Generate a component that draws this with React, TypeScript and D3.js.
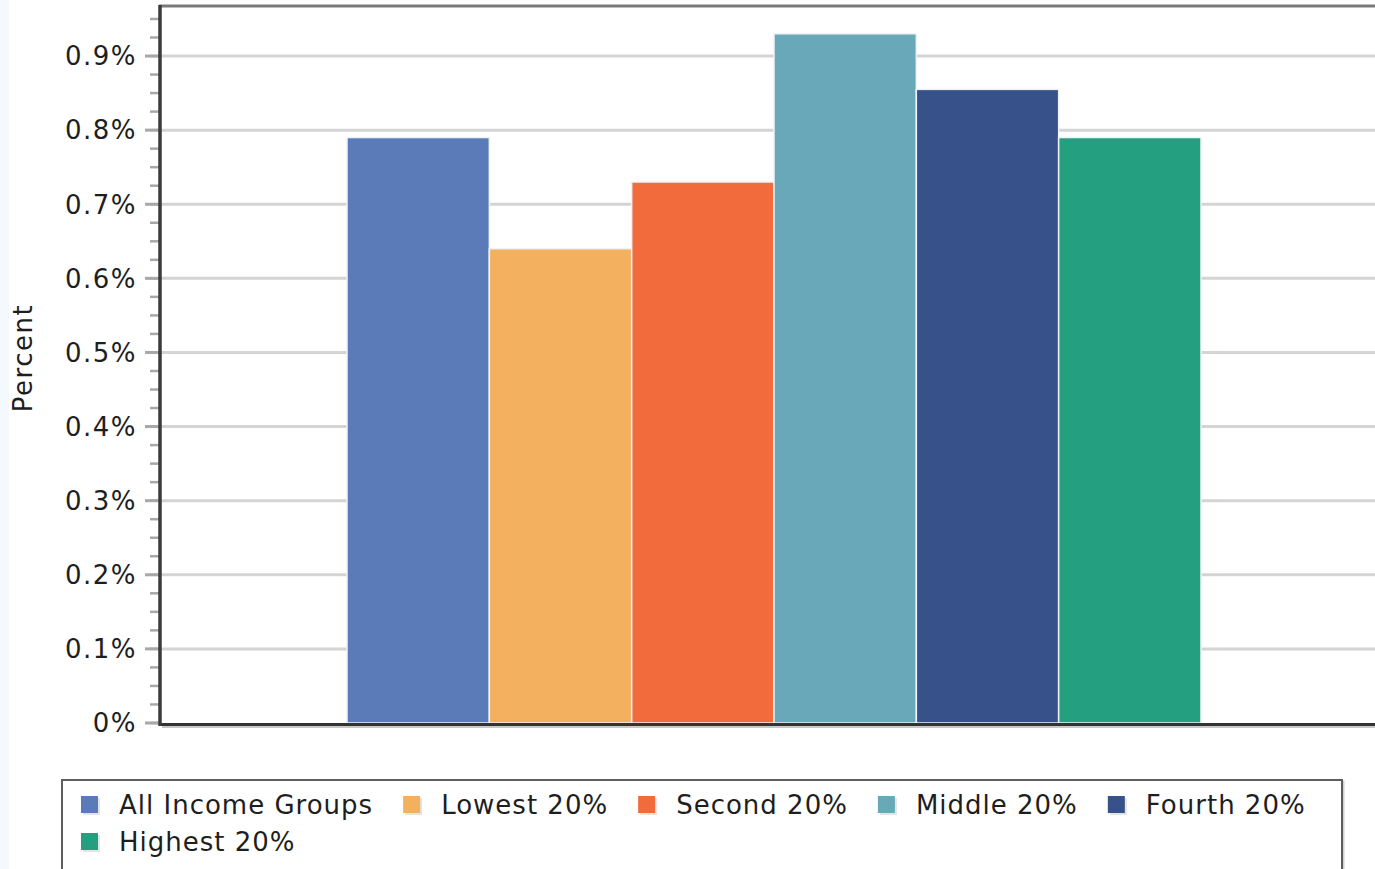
import React, { useEffect, useRef } from "react";
import * as d3 from "d3";

// Share of income by group
const seriesNames = [
  "All Income Groups",
  "Lowest 20%",
  "Second 20%",
  "Middle 20%",
  "Fourth 20%",
  "Highest 20%",
];
const seriesValues = [0.79, 0.64, 0.73, 0.93, 0.855, 0.79];
const seriesColors = ["#5a7bb8", "#f3b05f", "#f26b3d", "#68a8b8", "#37528a", "#249f7f"];
const majorTicks = [0, 0.1, 0.2, 0.3, 0.4, 0.5, 0.6, 0.7, 0.8, 0.9];
const categories = ["Percent"];

const W = 1375;
const H = 869;
const FONT = "'DejaVu Sans', Verdana, sans-serif";

export default function App() {
  const ref = useRef<SVGSVGElement | null>(null);

  useEffect(() => {
    const svg = d3.select(ref.current);
    svg.selectAll("*").remove();

    const plot = { left: 160, top: 6, right: 1388, bottom: 723 };

    const y = d3.scaleLinear().domain([0, 0.9675]).range([plot.bottom, plot.top]);
    const x0 = d3
      .scaleBand<string>()
      .domain(categories)
      .range([plot.left, plot.right])
      .paddingInner(0)
      .paddingOuter(0.219);
    const x1 = d3.scaleBand<string>().domain(seriesNames).range([0, x0.bandwidth()]).padding(0);

    svg.append("rect").attr("width", W).attr("height", H).attr("fill", "#ffffff");
    svg.append("rect").attr("width", 9).attr("height", H).attr("fill", "#f3f9fc");

    // grid lines
    svg
      .append("g")
      .selectAll("line")
      .data(majorTicks.filter((t) => t > 0))
      .join("line")
      .attr("x1", plot.left)
      .attr("x2", W)
      .attr("y1", (d) => y(d))
      .attr("y2", (d) => y(d))
      .attr("stroke", "#d4d4d4")
      .attr("stroke-width", 3);

    // bars
    const g = svg.append("g").attr("transform", `translate(${x0(categories[0])},0)`);
    g.selectAll("rect")
      .data(seriesNames.map((n, i) => ({ n, v: seriesValues[i], c: seriesColors[i] })))
      .join("rect")
      .attr("x", (d) => x1(d.n)!)
      .attr("width", x1.bandwidth())
      .attr("y", (d) => y(d.v))
      .attr("height", (d) => y(0) - y(d.v))
      .attr("fill", (d) => d.c)
      .attr("stroke", "#eef2f6")
      .attr("stroke-width", 1.5);

    // minor + major ticks
    const minor = d3.range(0, 0.96, 0.025);
    svg
      .append("g")
      .selectAll("line")
      .data(minor)
      .join("line")
      .attr("x1", 150)
      .attr("x2", plot.left)
      .attr("y1", (d) => y(d))
      .attr("y2", (d) => y(d))
      .attr("stroke", "#a8a8a8")
      .attr("stroke-width", 2.5);
    svg
      .append("g")
      .selectAll("line")
      .data(majorTicks)
      .join("line")
      .attr("x1", 145)
      .attr("x2", plot.left)
      .attr("y1", (d) => y(d))
      .attr("y2", (d) => y(d))
      .attr("stroke", "#a8a8a8")
      .attr("stroke-width", 3);

    // tick labels
    svg
      .append("g")
      .selectAll("text")
      .data(majorTicks)
      .join("text")
      .attr("x", 137)
      .attr("y", (d) => y(d))
      .attr("dy", "0.36em")
      .attr("text-anchor", "end")
      .attr("font-family", FONT)
      .attr("font-size", 26)
      .attr("letter-spacing", 1.5)
      .attr("fill", "#1e1e1e")
      .text((d) => (d === 0 ? "0%" : `${d3.format(".1f")(d)}%`));

    // frame: top border, left and bottom axes
    svg
      .append("line")
      .attr("x1", plot.left - 1)
      .attr("x2", W)
      .attr("y1", plot.top)
      .attr("y2", plot.top)
      .attr("stroke", "#7a7a7a")
      .attr("stroke-width", 3);
    svg
      .append("line")
      .attr("x1", plot.left + 2)
      .attr("x2", W)
      .attr("y1", plot.bottom + 4)
      .attr("y2", plot.bottom + 4)
      .attr("stroke", "#c8c8c8")
      .attr("stroke-width", 2);
    svg
      .append("line")
      .attr("x1", plot.left)
      .attr("x2", W)
      .attr("y1", plot.bottom + 1.5)
      .attr("y2", plot.bottom + 1.5)
      .attr("stroke", "#333333")
      .attr("stroke-width", 3);
    svg
      .append("line")
      .attr("x1", plot.left)
      .attr("x2", plot.left)
      .attr("y1", plot.top - 1)
      .attr("y2", plot.bottom + 3)
      .attr("stroke", "#3a3a3a")
      .attr("stroke-width", 3.5);

    // y axis title
    svg
      .append("text")
      .attr("transform", `translate(32,358) rotate(-90)`)
      .attr("text-anchor", "middle")
      .attr("font-family", FONT)
      .attr("font-size", 26)
      .attr("letter-spacing", 1.5)
      .attr("fill", "#1e1e1e")
      .text("Percent");

    // legend
    const lg = { x: 62, y: 780, w: 1280, h: 100 };
    svg
      .append("rect")
      .attr("x", lg.x + 1.5)
      .attr("y", lg.y + 1.5)
      .attr("width", lg.w)
      .attr("height", lg.h)
      .attr("fill", "none")
      .attr("stroke", "#d0d0d0")
      .attr("stroke-width", 2);
    svg
      .append("rect")
      .attr("x", lg.x)
      .attr("y", lg.y)
      .attr("width", lg.w)
      .attr("height", lg.h)
      .attr("fill", "#ffffff")
      .attr("stroke", "#5e5e5e")
      .attr("stroke-width", 2);

    const items = svg.append("g");
    let cx = 81;
    let row = 0;
    const rowH = 37;
    seriesNames.forEach((name, i) => {
      const it = items.append("g");
      const txt = it
        .append("text")
        .attr("font-family", FONT)
        .attr("font-size", 26)
        .attr("letter-spacing", 1)
        .attr("fill", "#1e1e1e")
        .attr("dy", "0.36em")
        .text(name);
      const tw = (txt.node() as SVGTextElement).getComputedTextLength();
      const itemW = 38 + tw;
      if (cx + itemW > lg.x + lg.w - 10) {
        row += 1;
        cx = 81;
      }
      const cy = 805 + row * rowH;
      it.insert("rect", "text")
        .attr("x", cx + 2)
        .attr("y", cy - 7)
        .attr("width", 17)
        .attr("height", 17)
        .attr("fill", "#e4e4e4");
      it.insert("rect", "text")
        .attr("x", cx)
        .attr("y", cy - 9)
        .attr("width", 17)
        .attr("height", 17)
        .attr("fill", seriesColors[i]);
      txt.attr("x", cx + 38).attr("y", cy);
      cx += itemW + 30;
    });
  }, []);

  return (
    <svg
      ref={ref}
      width={W}
      height={H}
      style={{ position: "absolute", left: 0, top: 0, display: "block" }}
    />
  );
}
